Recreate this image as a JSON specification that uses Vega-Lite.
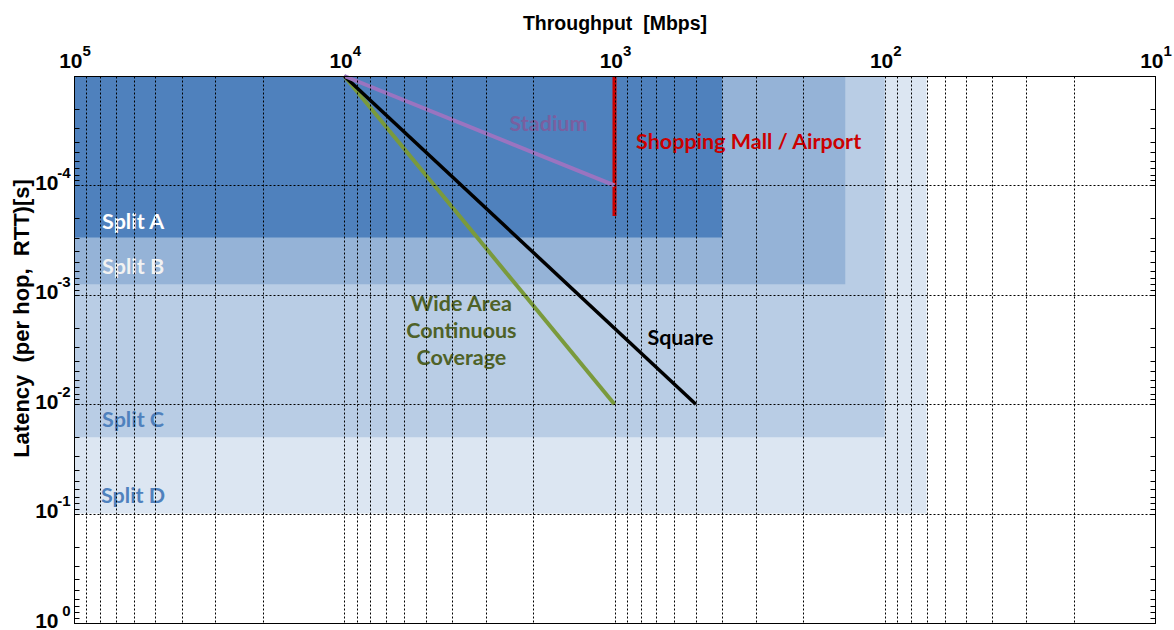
{
  "$schema": "https://vega.github.io/schema/vega-lite/v6.json",
  "width": 1081,
  "height": 547,
  "autosize": {"type": "none"},
  "padding": {"left": 74, "top": 76, "right": 19, "bottom": 7},
  "background": "white",
  "config": {
    "view": {"stroke": "black", "strokeWidth": 1},
    "axis": {
      "labelFont": "Liberation Sans",
      "labelFontWeight": "bold",
      "labelColor": "black",
      "titleFont": "Liberation Sans",
      "titleFontWeight": "bold",
      "titleColor": "black",
      "labelOverlap": false,
      "labelFlush": false,
      "labelBound": false,
      "domainColor": "black",
      "tickColor": "black",
      "gridColor": "black"
    }
  },
  "resolve": {"axis": {"x": "independent", "y": "independent"}},
  "layer": [
    {
      "data": {"values": [
        {"split": "Split D", "x1": 100000, "x2": 70, "y1": 0.00001, "y2": 0.1},
        {"split": "Split C", "x1": 100000, "x2": 100, "y1": 0.00001, "y2": 0.02},
        {"split": "Split B", "x1": 100000, "x2": 140, "y1": 0.00001, "y2": 0.0008},
        {"split": "Split A", "x1": 100000, "x2": 400, "y1": 0.00001, "y2": 0.0003}
      ]},
      "mark": {"type": "rect", "strokeWidth": 0},
      "encoding": {
        "x": {
          "field": "x1", "type": "quantitative",
          "scale": {"type": "log", "domain": [10, 100000], "reverse": true, "nice": false},
          "axis": {
            "orient": "top",
            "values": [10,20,30,40,50,60,70,80,90,100,200,300,400,500,600,700,800,900,1000,2000,3000,4000,5000,6000,7000,8000,9000,10000,20000,30000,40000,50000,60000,70000,80000,90000,100000],
            "labelExpr": "abs(log(datum.value)/LN10 - round(log(datum.value)/LN10)) < 0.000001 ? '10' : ''",
            "labelAlign": "right",
            "labelOffset": 8,
            "labelPadding": 9,
            "labelBaseline": "alphabetic",
            "labelFontSize": 21,
            "ticks": false,
            "grid": true,
            "gridDash": [2, 2],
            "gridWidth": 1,
            "domain": true,
            "title": "Throughput\u00a0\u00a0[Mbps]",
            "titleFontSize": 19.5,
            "titleBaseline": "alphabetic",
            "titleY": -47,
            "zindex": 1
          }
        },
        "x2": {"field": "x2"},
        "y": {
          "field": "y1", "type": "quantitative",
          "scale": {"type": "log", "domain": [0.00001, 1], "reverse": true, "nice": false},
          "axis": {
            "orient": "left",
            "values": [0.00001,0.00002,0.00003,0.00004,0.00005,0.00006,0.00007,0.00008,0.00009,0.0001,0.0002,0.0003,0.0004,0.0005,0.0006,0.0007,0.0008,0.0009,0.001,0.002,0.003,0.004,0.005,0.006,0.007,0.008,0.009,0.01,0.02,0.03,0.04,0.05,0.06,0.07,0.08,0.09,0.1,0.2,0.3,0.4,0.5,0.6,0.7,0.8,0.9,1],
            "labelExpr": "(datum.value > 0.00002 && abs(log(datum.value)/LN10 - round(log(datum.value)/LN10)) < 0.000001) ? '10' : ''",
            "labelAlign": "right",
            "labelPadding": 21,
            "labelOffset": 4,
            "labelBaseline": "alphabetic",
            "labelFontSize": 21,
            "ticks": true,
            "tickSize": -5,
            "grid": true,
            "gridDash": [2, 2],
            "gridWidth": 1,
            "gridOpacity": {"condition": {"test": "abs(log(datum.value)/LN10 - round(log(datum.value)/LN10)) < 0.000001", "value": 1}, "value": 0},
            "domain": true,
            "title": "Latency\u00a0\u00a0(per hop,\u00a0\u00a0RTT)[s]",
            "titleFontSize": 22,
            "titleBaseline": "alphabetic",
            "titleX": -46,
            "titleY": 242,
            "zindex": 1
          }
        },
        "y2": {"field": "y2"},
        "fill": {
          "field": "split", "type": "nominal",
          "scale": {"domain": ["Split A", "Split B", "Split C", "Split D"], "range": ["#4F81BD", "#95B3D7", "#B9CDE5", "#DCE6F2"]},
          "legend": null
        }
      }
    },
    {
      "data": {"values": [
        {"series": "WAC", "x": 10000, "y": 0.00001},
        {"series": "WAC", "x": 1000, "y": 0.01},
        {"series": "Square", "x": 10000, "y": 0.00001},
        {"series": "Square", "x": 500, "y": 0.01},
        {"series": "Mall", "x": 1000, "y": 0.00001},
        {"series": "Mall", "x": 1000, "y": 0.00019}
      ]},
      "mark": {"type": "line", "strokeCap": "butt"},
      "encoding": {
        "x": {
          "field": "x", "type": "quantitative",
          "axis": {
            "orient": "top",
            "values": [10, 100, 1000, 10000, 100000],
            "labelExpr": "'' + round(log(datum.value)/LN10)",
            "labelAlign": "left",
            "labelOffset": 8,
            "labelPadding": 21,
            "labelBaseline": "alphabetic",
            "labelFontSize": 15,
            "ticks": false,
            "grid": false,
            "domain": false,
            "title": null
          }
        },
        "y": {
          "field": "y", "type": "quantitative",
          "axis": {
            "orient": "left",
            "values": [0.0001, 0.001, 0.01, 0.1, 1],
            "labelExpr": "'' + round(log(datum.value)/LN10)",
            "labelAlign": "right",
            "labelPadding": 4,
            "labelOffset": -8,
            "labelBaseline": "alphabetic",
            "labelFontSize": 15,
            "ticks": false,
            "grid": false,
            "domain": false,
            "title": null
          }
        },
        "detail": {"field": "series"},
        "stroke": {
          "field": "series", "type": "nominal",
          "scale": {"domain": ["Mall", "Square", "WAC"], "range": ["#CC0000", "#000000", "#7A9A3C"]},
          "legend": null
        },
        "strokeWidth": {
          "field": "series", "type": "nominal",
          "scale": {"type": "ordinal", "domain": ["Mall", "Square", "WAC"], "range": [4, 3.5, 4]},
          "legend": null
        }
      }
    },
    {
      "data": {"values": [
        {"series": "Stadium", "x": 10000, "y": 0.00001},
        {"series": "Stadium", "x": 1000, "y": 0.0001}
      ]},
      "mark": {"type": "line", "strokeCap": "butt", "strokeWidth": 4, "color": "#9A74C0"},
      "encoding": {
        "x": {"field": "x", "type": "quantitative", "axis": null},
        "y": {"field": "y", "type": "quantitative", "axis": null}
      }
    },
    {
      "data": {"values": [
        {"label": "Stadium", "kind": "Stadium", "x": 1755, "y": 0.000028},
        {"label": "Shopping Mall / Airport", "kind": "Mall", "x": 319, "y": 0.000041},
        {"label": "Square", "kind": "Square", "x": 570, "y": 0.00254},
        {"label": "Wide Area", "kind": "WAC", "x": 3686, "y": 0.00124},
        {"label": "Continuous", "kind": "WAC", "x": 3686, "y": 0.00219},
        {"label": "Coverage", "kind": "WAC", "x": 3686, "y": 0.00386},
        {"label": "Split A", "kind": "A", "x": 60450, "y": 0.000221},
        {"label": "Split B", "kind": "B", "x": 60450, "y": 0.000569},
        {"label": "Split C", "kind": "C", "x": 60450, "y": 0.01426},
        {"label": "Split D", "kind": "D", "x": 60450, "y": 0.0705}
      ]},
      "mark": {"type": "text", "font": "Lato", "fontWeight": "bold", "fontSize": 21.5, "baseline": "middle", "align": "center"},
      "encoding": {
        "x": {"field": "x", "type": "quantitative", "axis": null},
        "y": {
          "field": "y", "type": "quantitative",
          "axis": {
            "orient": "right",
            "values": [0.00001,0.00002,0.00003,0.00004,0.00005,0.00006,0.00007,0.00008,0.00009,0.0001,0.0002,0.0003,0.0004,0.0005,0.0006,0.0007,0.0008,0.0009,0.001,0.002,0.003,0.004,0.005,0.006,0.007,0.008,0.009,0.01,0.02,0.03,0.04,0.05,0.06,0.07,0.08,0.09,0.1,0.2,0.3,0.4,0.5,0.6,0.7,0.8,0.9,1],
            "labels": false,
            "ticks": true,
            "tickSize": -5,
            "grid": false,
            "domain": true,
            "title": null
          }
        },
        "text": {"field": "label"},
        "color": {
          "field": "kind", "type": "nominal",
          "scale": {"domain": ["Stadium", "Mall", "Square", "WAC", "A", "B", "C", "D"], "range": ["#7A5FA0", "#CC0000", "#000000", "#4F6228", "#FFFFFF", "#F2F2F2", "#4F81BD", "#4F81BD"]},
          "legend": null
        }
      }
    }
  ]
}
